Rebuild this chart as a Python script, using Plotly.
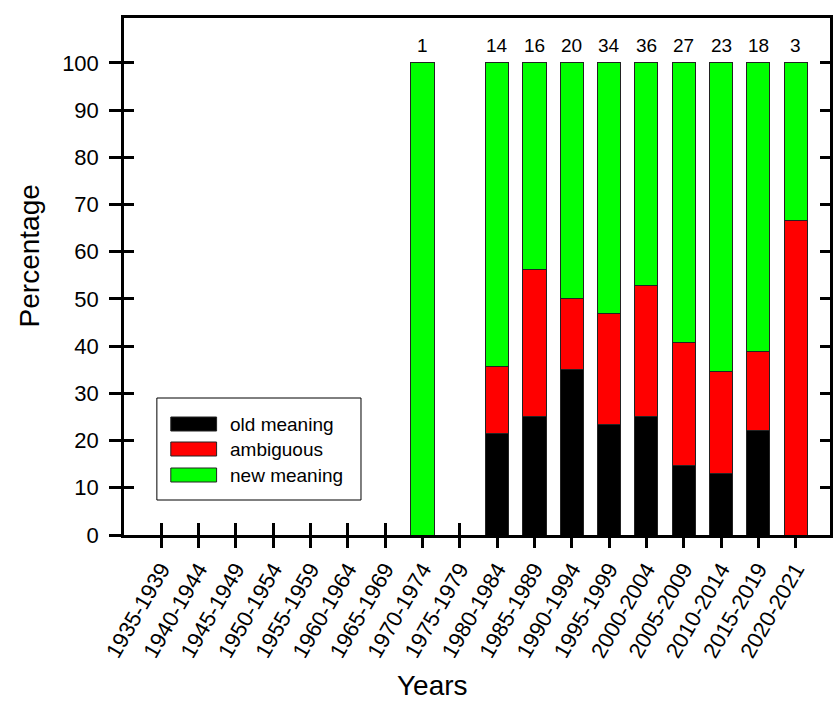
import plotly.graph_objects as go

categories = ['1935-1939', '1940-1944', '1945-1949', '1950-1954', '1955-1959',
              '1960-1964', '1965-1969', '1970-1974', '1975-1979', '1980-1984',
              '1985-1989', '1990-1994', '1995-1999', '2000-2004', '2005-2009',
              '2010-2014', '2015-2019', '2020-2021']
old_meaning = [None, None, None, None, None, None, None, None, None,
               21.4, 25.0, 35.0, 23.5, 25.0, 14.8, 13.0, 22.2, None]
ambiguous = [None, None, None, None, None, None, None, None, None,
             14.3, 31.3, 15.0, 23.5, 27.8, 25.9, 21.7, 16.7, 66.7]
new_meaning = [None, None, None, None, None, None, None, 100.0, None,
               64.3, 43.7, 50.0, 53.0, 47.2, 59.3, 65.3, 61.1, 33.3]
counts = [None, None, None, None, None, None, None, 1, None,
          14, 16, 20, 34, 36, 27, 23, 18, 3]

series_names = ['old meaning', 'ambiguous', 'new meaning']
series_colors = ['#000000', '#ff0000', '#00ff00']
y_ticks = [0, 10, 20, 30, 40, 50, 60, 70, 80, 90, 100]

FONT = 'Arial'
W, H = 837, 704
L, R, T, B = 124, 4, 18, 169
XR = [-1, 17.92]
YR = [0, 109.5]

fig = go.Figure()
for name, vals, col in zip(series_names, [old_meaning, ambiguous, new_meaning], series_colors):
    fig.add_trace(go.Bar(
        x=categories, y=vals, name=name, width=0.62,
        marker=dict(color=col, line=dict(color='#222222', width=1)),
        showlegend=False))

# dummy trace for overlay axes (crossing / inward ticks)
fig.add_trace(go.Scatter(x=[None], y=[None], xaxis='x2', yaxis='y2',
                         showlegend=False, hoverinfo='skip'))

annotations = []
for cat, n in zip(categories, counts):
    if n is not None:
        annotations.append(dict(x=cat, y=100, xref='x', yref='y', text=str(n),
                                showarrow=False, yanchor='bottom', yshift=5,
                                font=dict(family=FONT, size=19, color='black')))

pw = W - L - R
ph = H - T - B
def px(xp):
    return (xp - L) / pw
def py(yp):
    return (H - B - yp) / ph

annotations.append(dict(x=px(30), y=py(256), xref='paper', yref='paper',
                        text='Percentage', textangle=-90, showarrow=False,
                        xanchor='center', yanchor='middle',
                        font=dict(family=FONT, size=28, color='black')))
annotations.append(dict(x=px(434), y=py(703), xref='paper', yref='paper',
                        text='Years', showarrow=False,
                        xanchor='center', yanchor='bottom',
                        font=dict(family=FONT, size=28, color='black')))

# custom legend
shapes = [dict(type='rect', xref='paper', yref='paper',
               x0=px(157), x1=px(362), y0=py(500), y1=py(398),
               line=dict(color='black', width=1), fillcolor='white', layer='above')]
row_y = [424, 449, 475]
for name, col, yc in zip(series_names, series_colors, row_y):
    shapes.append(dict(type='rect', xref='paper', yref='paper',
                       x0=px(171), x1=px(217), y0=py(yc + 7), y1=py(yc - 7),
                       line=dict(color='#222222', width=1), fillcolor=col, layer='above'))
    annotations.append(dict(x=px(228), y=py(yc), xref='paper', yref='paper',
                            text=name, showarrow=False, xanchor='left', yanchor='middle',
                            font=dict(family=FONT, size=19, color='black')))

fig.update_layout(
    width=W, height=H,
    margin=dict(l=L, r=R, t=T, b=B, pad=0),
    paper_bgcolor='white', plot_bgcolor='white',
    barmode='stack',
    font=dict(family=FONT, color='black', size=22),
    xaxis=dict(type='category', categoryorder='array', categoryarray=categories,
               range=XR, showgrid=False, zeroline=False,
               showline=True, linecolor='black', linewidth=2.5, mirror=True,
               ticks='outside', ticklen=10, tickwidth=2.5, tickcolor='black',
               tickangle=-60, tickfont=dict(family=FONT, size=22, color='black')),
    yaxis=dict(range=YR, tickvals=y_ticks, showgrid=False, zeroline=False,
               showline=True, linecolor='black', linewidth=2.5, mirror=True,
               ticks='outside', ticklen=12, tickwidth=2.5, tickcolor='black',
               ticklabelstandoff=6,
               tickfont=dict(family=FONT, size=22, color='black')),
    xaxis2=dict(overlaying='x', anchor='y', side='bottom', range=XR,
                tickvals=list(range(len(categories))), showticklabels=False,
                ticks='inside', ticklen=12, tickwidth=2.5, tickcolor='black',
                showgrid=False, zeroline=False, showline=False,
                layer='below traces'),
    yaxis2=dict(overlaying='y', anchor='x', side='left', range=YR,
                tickvals=y_ticks, showticklabels=False,
                ticks='inside', ticklen=10, tickwidth=2.5, tickcolor='black',
                mirror='ticks', showgrid=False, zeroline=False, showline=False),
    annotations=annotations,
    shapes=shapes,
)

fig.write_html('out.html')
